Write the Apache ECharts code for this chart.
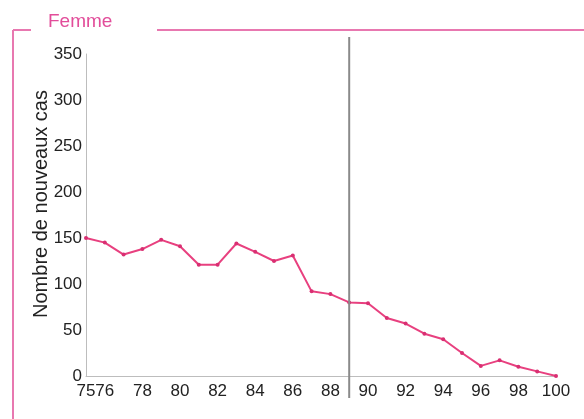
<!DOCTYPE html>
<html>
<head>
<meta charset="utf-8">
<script src="https://cdn.jsdelivr.net/npm/echarts@6/dist/echarts.min.js"></script>
<style>html,body{margin:0;padding:0;background:#fff;}#c{width:584px;height:419px;}</style>
</head>
<body>
<div id="c"></div>
<script>
var years = [75,76,77,78,79,80,81,82,83,84,85,86,87,88,89,90,91,92,93,94,95,96,97,98,99,100];
var cases = [150,145,132,138,148,141,121,121,144,135,125,131,92,89,80,79,63,57,46,40,25,11,17,10,5,0];
var yTicks = [0,50,100,150,200,250,300,350];
var markYear = 89;
var panelTitle = 'Femme';
var yAxisTitle = 'Nombre de nouveaux cas';

var chart = echarts.init(document.getElementById('c'), null, {renderer:'canvas'});
var font = 'Liberation Sans, Arial, sans-serif';
var option = {
  animation: false,
  backgroundColor: '#fff',
  grid: {left: 86, right: 28, top: 54, bottom: 43},
  xAxis: {
    type: 'value', min: 75, max: 100, interval: 1,
    axisLine: {show: true, lineStyle: {color: '#bdbdbd', width: 1}},
    axisTick: {show: false},
    splitLine: {show: false},
    axisLabel: {
      color: '#222', fontSize: 17, fontFamily: font, margin: 7,
      formatter: function (v) { return (v === 75 || v % 2 === 0) ? String(v) : ''; }
    }
  },
  yAxis: {
    type: 'value', min: yTicks[0], max: yTicks[yTicks.length-1], interval: 50,
    axisLine: {show: true, lineStyle: {color: '#bdbdbd', width: 1}},
    axisTick: {show: false},
    splitLine: {show: false},
    axisLabel: {color: '#222', fontSize: 17, fontFamily: font, margin: 4}
  },
  series: [{
    type: 'line',
    data: years.map(function (y, i) { return [y, cases[i]]; }),
    lineStyle: {color: '#e8407f', width: 2},
    itemStyle: {color: '#d92f72'},
    symbol: 'circle', symbolSize: 4,
    z: 3
  }]
};
chart.setOption(option);

var vx = chart.convertToPixel({xAxisIndex: 0}, markYear);
var frameColor = '#e878b0';
chart.setOption({
  graphic: [
    {type: 'line', shape: {x1: 13, y1: 30, x2: 13, y2: 430}, style: {stroke: frameColor, lineWidth: 2}},
    {type: 'line', shape: {x1: 13, y1: 30, x2: 31, y2: 30}, style: {stroke: frameColor, lineWidth: 2}},
    {type: 'line', shape: {x1: 157, y1: 30, x2: 590, y2: 30}, style: {stroke: frameColor, lineWidth: 2}},
    {type: 'text', left: 48, top: 12, style: {text: panelTitle, fill: '#e24d9a', font: '19px ' + font}},
    {type: 'line', shape: {x1: vx, y1: 37, x2: vx, y2: 398}, style: {stroke: '#8a8a8a', lineWidth: 2}, z: 5},
    {type: 'text', x: 41, y: 204, rotation: Math.PI/2,
     style: {text: yAxisTitle, fill: '#222', font: '20px ' + font, textAlign: 'center', textVerticalAlign: 'middle'}}
  ]
});
</script>
</body>
</html>
